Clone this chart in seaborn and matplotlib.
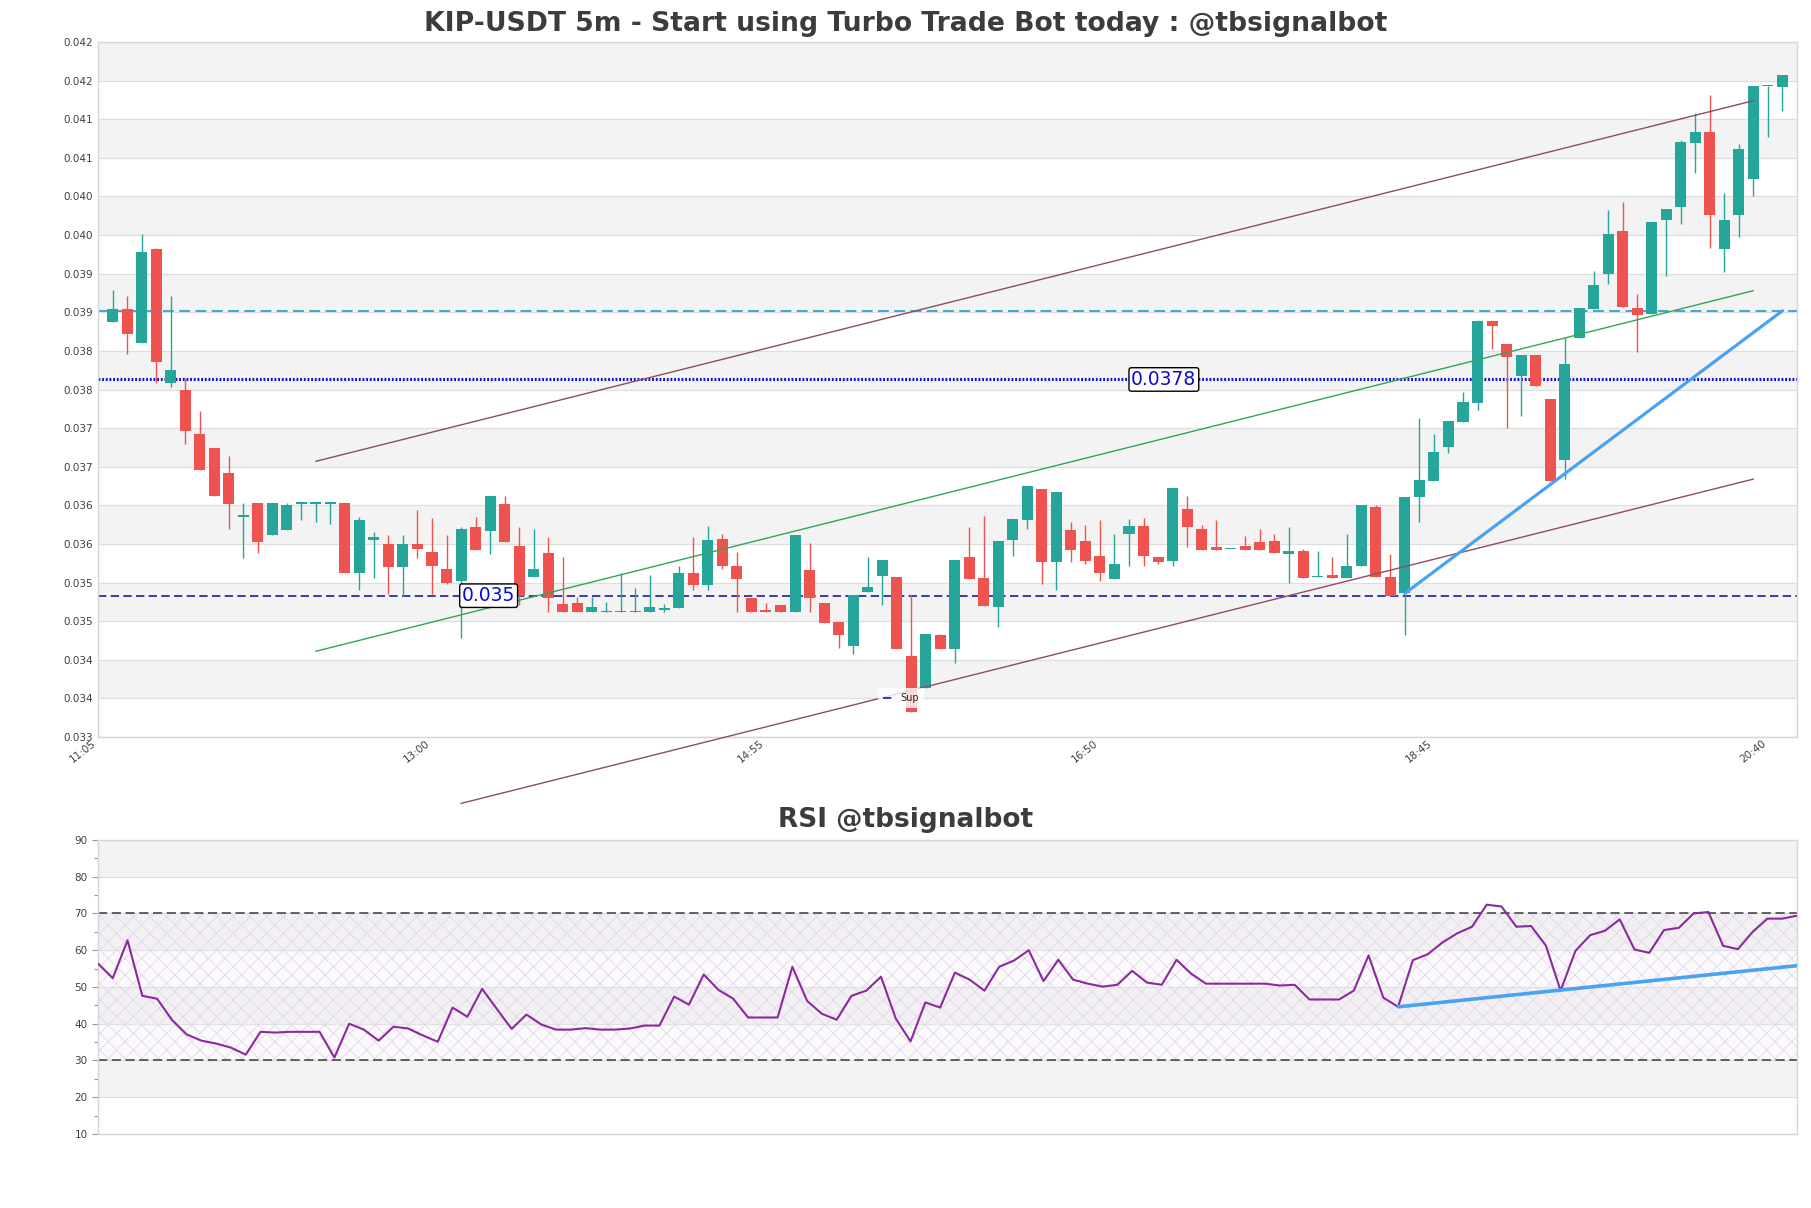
import matplotlib
matplotlib.use('Agg')
import matplotlib.pyplot as plt
import numpy as np
import pandas as pd
import seaborn as sns

# ---- candle data (KIP-USDT, 5m) ----
opens = [0.03855, 0.03871, 0.03827, 0.03949, 0.03776, 0.03766, 0.03709, 0.03691, 0.03659, 0.03602,
         0.03620, 0.03578, 0.03585, 0.03619, 0.03619, 0.03619, 0.03620, 0.03529, 0.03572, 0.03567,
         0.03537, 0.03567, 0.03556, 0.03534, 0.03519, 0.03589, 0.03584, 0.03619, 0.03564, 0.03524,
         0.03555, 0.03489, 0.03490, 0.03479, 0.03479, 0.03479, 0.03479, 0.03479, 0.03482, 0.03484,
         0.03530, 0.03514, 0.03573, 0.03539, 0.03497, 0.03481, 0.03488, 0.03479, 0.03533, 0.03490,
         0.03466, 0.03435, 0.03505, 0.03525, 0.03524, 0.03422, 0.03381, 0.03449, 0.03431, 0.03550,
         0.03523, 0.03485, 0.03572, 0.03598, 0.03638, 0.03543, 0.03585, 0.03571, 0.03552, 0.03521,
         0.03580, 0.03590, 0.03550, 0.03545, 0.03612, 0.03587, 0.03563, 0.03560, 0.03564, 0.03569,
         0.03571, 0.03554, 0.03558, 0.03524, 0.03527, 0.03523, 0.03538, 0.03615, 0.03524, 0.03503,
         0.03628, 0.03649, 0.03692, 0.03725, 0.03750, 0.03856, 0.03826, 0.03784, 0.03812, 0.03755,
         0.03676, 0.03834, 0.03871, 0.03916, 0.03972, 0.03872, 0.03865, 0.03986, 0.04003, 0.04086,
         0.04100, 0.03949, 0.03993, 0.04040, 0.04160, 0.04159]
highs = [0.03896, 0.03888, 0.03968, 0.03950, 0.03888, 0.03782, 0.03739, 0.03691, 0.03681, 0.03620,
         0.03620, 0.03620, 0.03620, 0.03620, 0.03620, 0.03620, 0.03620, 0.03602, 0.03582, 0.03578,
         0.03578, 0.03611, 0.03600, 0.03578, 0.03589, 0.03602, 0.03629, 0.03629, 0.03589, 0.03587,
         0.03576, 0.03550, 0.03498, 0.03498, 0.03492, 0.03530, 0.03510, 0.03527, 0.03489, 0.03538,
         0.03576, 0.03590, 0.03580, 0.03556, 0.03497, 0.03490, 0.03488, 0.03578, 0.03568, 0.03490,
         0.03466, 0.03501, 0.03550, 0.03546, 0.03524, 0.03501, 0.03450, 0.03450, 0.03546, 0.03589,
         0.03603, 0.03571, 0.03599, 0.03642, 0.03638, 0.03634, 0.03596, 0.03591, 0.03598, 0.03580,
         0.03599, 0.03600, 0.03550, 0.03640, 0.03629, 0.03591, 0.03598, 0.03560, 0.03577, 0.03586,
         0.03580, 0.03589, 0.03561, 0.03558, 0.03550, 0.03580, 0.03617, 0.03617, 0.03554, 0.03628,
         0.03730, 0.03710, 0.03726, 0.03764, 0.03857, 0.03856, 0.03826, 0.03812, 0.03812, 0.03755,
         0.03835, 0.03872, 0.03920, 0.03999, 0.04010, 0.03891, 0.03984, 0.04001, 0.04090, 0.04125,
         0.04148, 0.04021, 0.04085, 0.04160, 0.04160, 0.04174]
lows = [0.03855, 0.03813, 0.03827, 0.03776, 0.03770, 0.03696, 0.03663, 0.03629, 0.03587, 0.03549,
        0.03555, 0.03578, 0.03585, 0.03598, 0.03595, 0.03593, 0.03529, 0.03508, 0.03523, 0.03502,
        0.03499, 0.03549, 0.03501, 0.03515, 0.03445, 0.03559, 0.03554, 0.03569, 0.03488, 0.03524,
        0.03479, 0.03479, 0.03479, 0.03479, 0.03479, 0.03479, 0.03479, 0.03479, 0.03479, 0.03484,
        0.03508, 0.03508, 0.03534, 0.03479, 0.03479, 0.03479, 0.03479, 0.03479, 0.03479, 0.03464,
        0.03432, 0.03425, 0.03505, 0.03488, 0.03431, 0.03349, 0.03381, 0.03431, 0.03413, 0.03521,
        0.03486, 0.03460, 0.03551, 0.03587, 0.03515, 0.03507, 0.03543, 0.03541, 0.03519, 0.03521,
        0.03539, 0.03539, 0.03541, 0.03538, 0.03563, 0.03559, 0.03559, 0.03560, 0.03559, 0.03559,
        0.03555, 0.03516, 0.03523, 0.03524, 0.03523, 0.03523, 0.03538, 0.03524, 0.03500, 0.03449,
        0.03595, 0.03649, 0.03685, 0.03725, 0.03740, 0.03819, 0.03717, 0.03733, 0.03771, 0.03649,
        0.03651, 0.03834, 0.03871, 0.03904, 0.03874, 0.03815, 0.03865, 0.03914, 0.03981, 0.04047,
        0.03950, 0.03919, 0.03964, 0.04018, 0.04094, 0.04128]
closes = [0.03871, 0.03839, 0.03945, 0.03802, 0.03792, 0.03713, 0.03663, 0.03629, 0.03619, 0.03605,
          0.03569, 0.03620, 0.03617, 0.03619, 0.03619, 0.03619, 0.03529, 0.03598, 0.03576, 0.03537,
          0.03567, 0.03561, 0.03538, 0.03517, 0.03586, 0.03559, 0.03629, 0.03569, 0.03499, 0.03534,
          0.03497, 0.03479, 0.03479, 0.03485, 0.03479, 0.03479, 0.03479, 0.03485, 0.03483, 0.03530,
          0.03514, 0.03572, 0.03538, 0.03521, 0.03479, 0.03479, 0.03479, 0.03578, 0.03497, 0.03464,
          0.03449, 0.03501, 0.03511, 0.03546, 0.03431, 0.03349, 0.03450, 0.03431, 0.03546, 0.03521,
          0.03486, 0.03571, 0.03599, 0.03642, 0.03543, 0.03634, 0.03559, 0.03545, 0.03530, 0.03541,
          0.03590, 0.03551, 0.03543, 0.03639, 0.03589, 0.03559, 0.03559, 0.03560, 0.03559, 0.03559,
          0.03555, 0.03558, 0.03523, 0.03524, 0.03523, 0.03539, 0.03617, 0.03524, 0.03500, 0.03628,
          0.03650, 0.03686, 0.03726, 0.03751, 0.03856, 0.03849, 0.03809, 0.03812, 0.03771, 0.03649,
          0.03800, 0.03872, 0.03902, 0.03968, 0.03874, 0.03863, 0.03984, 0.04001, 0.04087, 0.04100,
          0.03993, 0.03986, 0.04078, 0.04160, 0.04160, 0.04174]

rsi = [56.4, 52.4, 62.7, 47.6, 46.8, 41.1, 37.1, 35.4, 34.6, 33.5,
       31.6, 37.8, 37.6, 37.8, 37.8, 37.8, 30.8, 40.0, 38.4, 35.4,
       39.2, 38.7, 36.8, 35.1, 44.4, 41.9, 49.5, 44.0, 38.6, 42.5,
       39.8, 38.4, 38.4, 38.8, 38.4, 38.4, 38.7, 39.5, 39.5, 47.4,
       45.2, 53.4, 49.2, 46.8, 41.7, 41.7, 41.7, 55.5, 46.2, 42.7,
       41.1, 47.6, 49.0, 52.8, 41.4, 35.2, 45.8, 44.4, 53.9, 52.0,
       49.0, 55.5, 57.2, 60.0, 51.6, 57.4, 52.0, 50.9, 50.1, 50.6,
       54.4, 51.2, 50.6, 57.4, 53.6, 50.9, 50.9, 50.9, 50.9, 50.9,
       50.4, 50.6, 46.6, 46.6, 46.6, 49.0, 58.6, 47.1, 44.6, 57.3,
       58.9, 62.1, 64.6, 66.4, 72.4, 71.9, 66.4, 66.6, 61.3, 49.0,
       59.8, 64.1, 65.3, 68.4, 60.2, 59.3, 65.5, 66.1, 70.0, 70.4,
       61.2, 60.3, 65.0, 68.6, 68.6, 69.4]

time_labels = ['11:05', '13:00', '14:55', '16:50', '18:45', '20:40']
time_label_idx = [0, 23, 46, 69, 92, 115]

# horizontal levels
sup_level = 0.0350
mid_level = 0.0378
res_level = 0.03869

# trend / channel lines (candle index, price)
upper_ch_x = [14, 113]
upper_ch_y = [0.03674, 0.04141]
mid_ch_x = [14, 113]
mid_ch_y = [0.03428, 0.03895]
lower_ch_x = [24, 113]
lower_ch_y = [0.03231, 0.03651]
trend_x = [89, 115]
trend_y = [0.03503, 0.03869]
rsi_trend_x = [88, 115]
rsi_trend_y = [44.6, 55.8]

GREEN = '#26a69a'
RED = '#ef5350'
TXT = '#404040'

sns.set_theme(style='white')
plt.rcParams['font.family'] = ['DejaVu Sans']
plt.rcParams['hatch.linewidth'] = 0.6

df = pd.DataFrame({'open': opens, 'high': highs, 'low': lows, 'close': closes})
df['idx'] = np.arange(len(df))
df['up'] = df['close'] >= df['open']

fig = plt.figure(figsize=(18.11, 12.08), dpi=100)
ax = fig.add_axes([0.05411, 0.38990, 0.93816, 0.57533])
ax2 = fig.add_axes([0.05411, 0.06126, 0.93816, 0.24338])

# ---- price panel ----
ymin, ymax = 0.03317, 0.04217
yt = np.linspace(ymin, ymax, 19)
for k in range(18):
    if k % 2 == 1:
        ax.axhspan(yt[k], yt[k + 1], color='#f3f3f3', lw=0, zorder=0)
ax.set_yticks(yt)
ax.set_yticklabels(['%.3f' % v for v in yt])
ax.grid(axis='y', color='#dedede', lw=0.9, zorder=0.5)
ax.set_axisbelow(True)

body_h = np.maximum((df['close'] - df['open']).abs(), 0.000018)
body_b = np.minimum(df['open'], df['close'])
cols = np.where(df['up'], GREEN, RED)
ax.vlines(df['idx'], df['low'], df['high'], colors=cols, lw=1.0, zorder=3)
ax.bar(df['idx'], body_h, bottom=body_b, width=0.76, color=cols, lw=0, zorder=4)

ax.axhline(res_level, color='#2ea0de', lw=1.3, ls=(0, (6, 3)), zorder=2)
ax.axhline(mid_level, color='#1010cc', lw=2.2, ls=(0, (0.6, 0.6)), zorder=2)
ax.axhline(sup_level, color='#1c1ca8', lw=1.2, ls=(0, (5, 2.6)), zorder=2, label='Sup')

sns.lineplot(x=upper_ch_x, y=upper_ch_y, ax=ax, color='#8e4d5e', lw=1.0, zorder=5)
sns.lineplot(x=mid_ch_x, y=mid_ch_y, ax=ax, color='#35a455', lw=1.0, zorder=5)
ax.plot(lower_ch_x, lower_ch_y, color='#8e4d5e', lw=1.0, zorder=5, clip_on=False)
sns.lineplot(x=trend_x, y=trend_y, ax=ax, color='#4aa3f0', lw=2.3, zorder=6)

bb = dict(boxstyle='round,pad=0.12', fc='white', ec='black', lw=1.0)
ax.text(25.9, sup_level, '%.3f' % sup_level, color='#0a0ad8', fontsize=13.5,
        ha='center', va='center', bbox=bb, zorder=8)
ax.text(72.4, mid_level, '%.4f' % mid_level, color='#0a0ad8', fontsize=13.5,
        ha='center', va='center', bbox=bb, zorder=8)

leg = ax.legend(loc='lower left', bbox_to_anchor=(0.459, 0.042), fontsize=7,
                handlelength=1.0, frameon=True, borderpad=0.5, borderaxespad=0)
leg.get_frame().set_edgecolor('none')
leg.get_frame().set_facecolor('white')

# labels sit a little left of their candle in the original
ax.set_xticks(np.array(time_label_idx) - 1.0)
ax.set_xticklabels(time_labels, rotation=38, ha='right', fontsize=7, color=TXT)
ax.set_xlim(-1, len(df))
ax.set_ylim(ymin, ymax)
ax.tick_params(axis='both', length=0, labelsize=7.5, labelcolor=TXT)
ax.tick_params(axis='x', pad=1)
ax.set_xlabel('')
ax.set_ylabel('')
for s in ax.spines.values():
    s.set_color('#d6d6d6')
    s.set_linewidth(1.0)

# ---- RSI panel ----
for lo in [20, 40, 60, 80]:
    ax2.axhspan(lo, lo + 10, color='#f3f3f3', lw=0, zorder=0)
ax2.axhspan(30, 70, facecolor='#f1ebf5', alpha=0.25, lw=0, zorder=0.6)
ax2.axhspan(30, 70, facecolor='none', hatch='xx', edgecolor='#e0d8e8', lw=0, zorder=0.7)
ax2.set_yticks(range(10, 91, 10))
ax2.set_yticks(range(15, 90, 10), minor=True)
ax2.grid(axis='y', which='major', color='#dedede', lw=0.9, zorder=0.5)
ax2.set_axisbelow(True)
ax2.axhline(70, color='#3a3a3a', lw=1.1, ls=(0, (6, 3)), zorder=2)
ax2.axhline(30, color='#3a3a3a', lw=1.1, ls=(0, (6, 3)), zorder=2)
sns.lineplot(x=np.arange(len(rsi)), y=rsi, ax=ax2, color='#8a2a9c', lw=1.5, zorder=4)
sns.lineplot(x=rsi_trend_x, y=rsi_trend_y, ax=ax2, color='#4aa3f0', lw=2.6, zorder=5)
ax2.set_xticks([])
ax2.set_ylim(10, 90)
ax2.set_xlim(0, len(rsi) - 1)
ax2.tick_params(axis='y', which='major', length=4, width=0.8, color='#999999',
                labelsize=7.5, labelcolor=TXT, left=True)
ax2.tick_params(axis='y', which='minor', length=3, width=0.8, color='#999999', left=True)
ax2.set_xlabel('')
ax2.set_ylabel('')
for s in ax2.spines.values():
    s.set_color('#d6d6d6')
    s.set_linewidth(1.0)

fig.text(0.5, 1 - 24 / 1208, 'KIP-USDT 5m - Start using Turbo Trade Bot today : @tbsignalbot',
         ha='center', va='center', fontsize=19.2, fontweight='bold', color='#3c3c3c')
fig.text(0.5, 1 - 820 / 1208, 'RSI @tbsignalbot', ha='center', va='center',
         fontsize=19, fontweight='bold', color='#3c3c3c')

fig.savefig('out.png', dpi=100, facecolor='white')
